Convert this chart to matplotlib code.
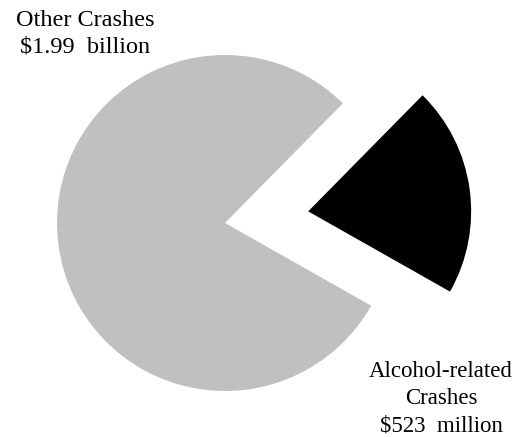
import matplotlib
matplotlib.use("Agg")
import matplotlib.pyplot as plt

# crash costs (millions of dollars)
labels = ["Alcohol-related\nCrashes\n$523  million", "Other Crashes\n$1.99  billion"]
costs = [523, 1990]
colors = ["#000000", "#c0c0c0"]
explode = [0.5, 0.0]

plt.rcParams["font.family"] = ["Liberation Serif", "DejaVu Serif"]

fig = plt.figure(figsize=(5.15, 4.37), dpi=100)
ax = fig.add_axes([0, 0, 1, 1])

wedges, _ = ax.pie(costs, colors=colors, explode=explode, startangle=-29.5,
                   counterclock=True, radius=1.0)
# black slice is drawn slightly smaller than the grey one
wedges[0].set_radius(0.97)

ax.set_xlim(-225 / 168, 290 / 168)
ax.set_ylim(-214 / 168, 223 / 168)
ax.set_aspect("equal")
ax.axis("off")

fig.text(85 / 515, 1 - 34 / 437, labels[1], ha="center", va="center",
         fontsize=17.5, linespacing=1.32)
fig.text(441 / 515, 1 - 399 / 437, labels[0], ha="center", va="center",
         fontsize=16.5, linespacing=1.4)

fig.savefig("out.png", dpi=100)
